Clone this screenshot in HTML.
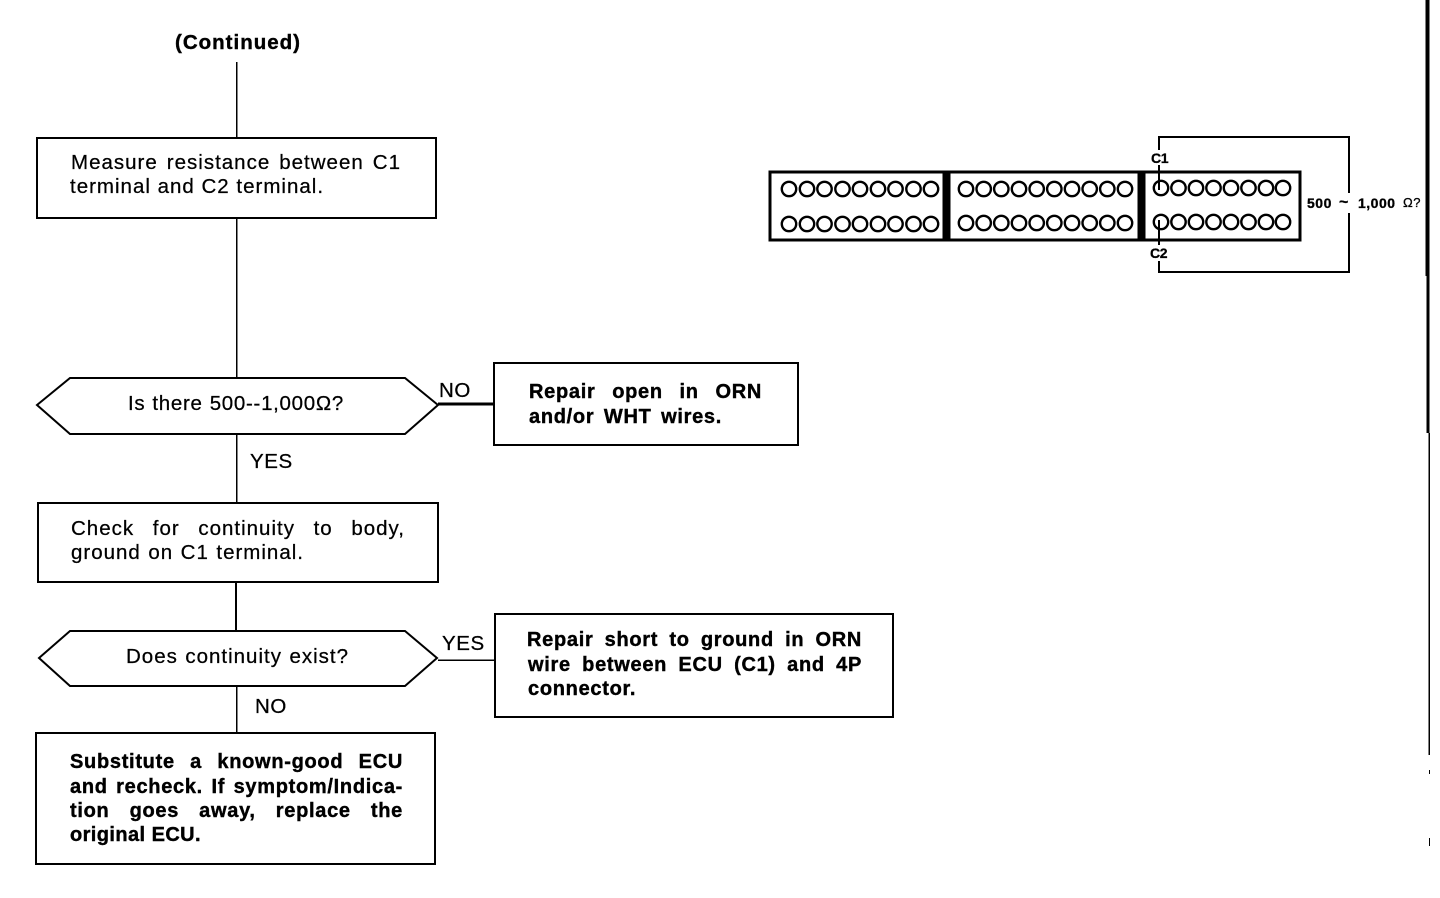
<!DOCTYPE html>
<html lang="en"><head><meta charset="utf-8"><title>ECU continuity flowchart</title>
<style>
html,body{margin:0;padding:0;background:#fff}
#p{position:relative;width:1440px;height:898px;overflow:hidden;background:#fff;color:#000;font-family:"Liberation Sans",sans-serif}
svg{position:absolute;left:0;top:0}
.t{position:absolute;white-space:nowrap;font-size:20.5px;line-height:24px;height:24px;letter-spacing:1px;text-align:justify;text-align-last:justify;-webkit-text-stroke:.25px #000}
.b{font-weight:bold;font-size:20px;letter-spacing:.7px;-webkit-text-stroke:.4px #000}
.f{text-align:left;text-align-last:left}
.s{position:absolute;white-space:nowrap;font-weight:bold;font-size:14px;line-height:16px;letter-spacing:-.3px;-webkit-text-stroke:.3px #000}
</style></head><body><div id="p">
<svg width="1440" height="898" fill="none" stroke="#000" stroke-width="1.5" shape-rendering="crispEdges">
<g stroke-width="2" fill="#fff">
<rect x="37" y="138" width="399" height="80"/>
<rect x="38" y="503" width="400" height="79"/>
<rect x="494" y="363" width="304" height="82"/>
<rect x="495" y="614" width="398" height="103"/>
<rect x="36" y="733" width="399" height="131"/>
<polygon shape-rendering="auto" points="37,405 70,378 405,378 438,405 405,434 70,434"/>
<polygon shape-rendering="auto" points="39,658 70,631 405,631 437,658 405,686 70,686"/>
</g>
<path d="M236.5 62V138M236.5 218V378M236.5 434V503M236.5 686V733"/>
<path d="M236 582V631" stroke-width="2"/>
<path d="M438 404H494" stroke-width="3"/>
<path d="M438 660H495"/>
<rect x="770" y="172" width="530" height="68" stroke-width="3"/>
<path d="M946.5 172V240M1141.5 172V240" stroke-width="8"/>
<g stroke-width="2.4" shape-rendering="auto">
<g><circle cx="789" cy="189" r="7.2"/><circle cx="807" cy="189" r="7.2"/><circle cx="824.500" cy="189" r="7.2"/><circle cx="842.500" cy="189" r="7.2"/><circle cx="860" cy="189" r="7.2"/><circle cx="878" cy="189" r="7.2"/><circle cx="895.500" cy="189" r="7.2"/><circle cx="913.500" cy="189" r="7.2"/><circle cx="931" cy="189" r="7.2"/></g>
<g><circle cx="789" cy="224" r="7.2"/><circle cx="807" cy="224" r="7.2"/><circle cx="824.500" cy="224" r="7.2"/><circle cx="842.500" cy="224" r="7.2"/><circle cx="860" cy="224" r="7.2"/><circle cx="878" cy="224" r="7.2"/><circle cx="895.500" cy="224" r="7.2"/><circle cx="913.500" cy="224" r="7.2"/><circle cx="931" cy="224" r="7.2"/></g>
<g><circle cx="966" cy="189" r="7.2"/><circle cx="983.700" cy="189" r="7.2"/><circle cx="1001.300" cy="189" r="7.2"/><circle cx="1019" cy="189" r="7.2"/><circle cx="1036.700" cy="189" r="7.2"/><circle cx="1054.300" cy="189" r="7.2"/><circle cx="1072" cy="189" r="7.2"/><circle cx="1089.700" cy="189" r="7.2"/><circle cx="1107.300" cy="189" r="7.2"/><circle cx="1125" cy="189" r="7.2"/></g>
<g><circle cx="966" cy="223" r="7.2"/><circle cx="983.700" cy="223" r="7.2"/><circle cx="1001.300" cy="223" r="7.2"/><circle cx="1019" cy="223" r="7.2"/><circle cx="1036.700" cy="223" r="7.2"/><circle cx="1054.300" cy="223" r="7.2"/><circle cx="1072" cy="223" r="7.2"/><circle cx="1089.700" cy="223" r="7.2"/><circle cx="1107.300" cy="223" r="7.2"/><circle cx="1125" cy="223" r="7.2"/></g>
<g><circle cx="1161" cy="188" r="7.2"/><circle cx="1178.500" cy="188" r="7.2"/><circle cx="1196" cy="188" r="7.2"/><circle cx="1213.500" cy="188" r="7.2"/><circle cx="1231" cy="188" r="7.2"/><circle cx="1248.500" cy="188" r="7.2"/><circle cx="1266" cy="188" r="7.2"/><circle cx="1283" cy="188" r="7.2"/></g>
<g><circle cx="1161" cy="222" r="7.2"/><circle cx="1178.500" cy="222" r="7.2"/><circle cx="1196" cy="222" r="7.2"/><circle cx="1213.500" cy="222" r="7.2"/><circle cx="1231" cy="222" r="7.2"/><circle cx="1248.500" cy="222" r="7.2"/><circle cx="1266" cy="222" r="7.2"/><circle cx="1283" cy="222" r="7.2"/></g>
</g>
<path d="M1159 150V137H1349V193M1349 213V272H1159V261" stroke-width="2"/>
<path d="M1159 165V190M1159 220V245" stroke-width="2"/>
<path d="M1427.500 0V276" stroke-width="4"/>
<path d="M1428 276V433" stroke-width="3"/>
<path d="M1429 433V755" stroke-width="1.500"/>
<path d="M1429.500 770V774M1429.500 838V846" stroke-width="1"/>
</svg>
<div class="t b" style="left:175px;top:31px;width:125px;font-size:20.5px;letter-spacing:1px;text-align:left;text-align-last:left">(Continued)</div>
<div class="t" style="left:71px;top:151px;width:330px">Measure resistance between C1</div>
<div class="t" style="left:70px;top:175px;width:253px">terminal and C2 terminal.</div>
<div class="t" style="left:128px;top:392px;width:216px;letter-spacing:.7px">Is there 500--1,000Ω?</div>
<div class="t f" style="left:439px;top:379px;letter-spacing:.6px">NO</div>
<div class="t b" style="left:529px;top:380px;width:233px">Repair open in ORN</div>
<div class="t b" style="left:529px;top:405px;width:193px">and/or WHT wires.</div>
<div class="t f" style="left:250px;top:450px;letter-spacing:.6px">YES</div>
<div class="t" style="left:71px;top:517px;width:334px">Check for continuity to body,</div>
<div class="t" style="left:71px;top:541px;width:233px">ground on C1 terminal.</div>
<div class="t" style="left:126px;top:645px;width:223px">Does continuity exist?</div>
<div class="t f" style="left:442px;top:632px;letter-spacing:.6px">YES</div>
<div class="t b" style="left:527px;top:628px;width:335px">Repair short to ground in ORN</div>
<div class="t b" style="left:528px;top:653px;width:334px">wire between ECU (C1) and 4P</div>
<div class="t b" style="left:528px;top:677px;width:107px;text-align:left;text-align-last:left">connector.</div>
<div class="t f" style="left:255px;top:695px;letter-spacing:.6px">NO</div>
<div class="t b" style="left:70px;top:750px;width:333px">Substitute a known-good ECU</div>
<div class="t b" style="left:70px;top:775px;width:333px">and recheck. If symptom/Indica-</div>
<div class="t b" style="left:70px;top:799px;width:333px">tion goes away, replace the</div>
<div class="t b" style="left:70px;top:823px;width:131px;letter-spacing:.4px">original ECU.</div>
<div class="s" style="left:1151px;top:150px">C1</div>
<div class="s" style="left:1150px;top:245px">C2</div>
<div class="s" style="left:1307px;top:195px;letter-spacing:.5px">500</div>
<div class="s" style="left:1339px;top:195px;font-size:16px">~</div>
<div class="s" style="left:1358px;top:195px;letter-spacing:.5px">1,000</div>
<div class="s" style="left:1403px;top:195px;font-weight:normal;font-size:13px;letter-spacing:.5px">Ω?</div>
</div></body></html>
